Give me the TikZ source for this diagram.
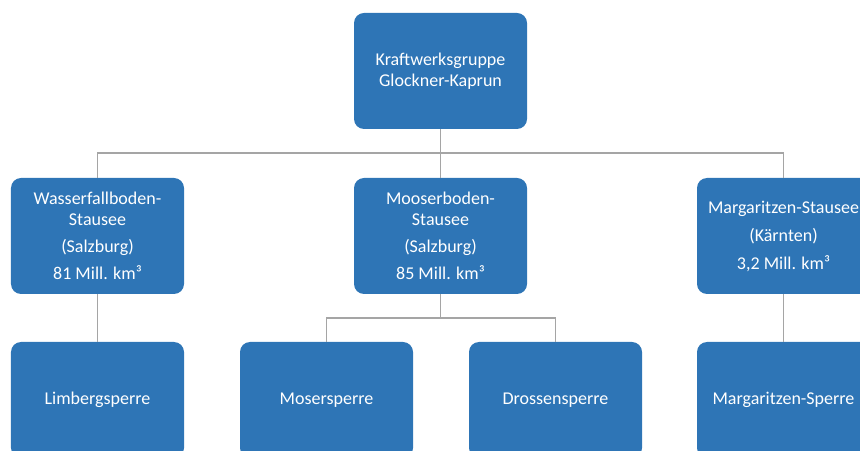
\documentclass[tikz,border=0pt]{standalone}
\usepackage{fontspec}
\setmainfont{Carlito}
\definecolor{boxblue}{HTML}{2E75B6}
\definecolor{linegray}{HTML}{A5A5A5}
\begin{document}
\begin{tikzpicture}[x=1bp,y=-1bp,
  orgbox/.style={draw=none,fill=boxblue,rounded corners=10bp,minimum width=173bp,minimum height=116bp,
    inner sep=0pt,text=white,align=center,font=\fontsize{18bp}{21bp}\selectfont},
  link/.style={draw=linegray,line width=1.6bp}]
\useasboundingbox (0,0) rectangle (860,451);
\clip (0,0) rectangle (860,451);
\node[orgbox] (top) at (440.5,71) {Kraftwerksgruppe\\Glockner-Kaprun};
\node[orgbox] (w) at (97.5,236) {Wasserfallboden-\\Stausee\\[6bp](Salzburg)\\[6bp]81 Mill. km³};
\node[orgbox] (m) at (440.5,236) {Mooserboden-\\Stausee\\[6bp](Salzburg)\\[6bp]85 Mill. km³};
\node[orgbox] (g) at (783.5,236) {Margaritzen-Stausee\\[7bp](Kärnten)\\[7bp]3,2 Mill. km³};
\node[orgbox] (lb) at (97.5,400) {Limbergsperre};
\node[orgbox] (ms) at (326.5,400) {Mosersperre};
\node[orgbox] (ds) at (555.5,400) {Drossensperre};
\node[orgbox] (gs) at (783.5,400) {Margaritzen-Sperre};
\coordinate (h1) at (440.5,153);
\coordinate (h2) at (440.5,318);
\draw[link] (top.south) -- (h1);
\draw[link] (w.north) |- (h1) -| (g.north);
\draw[link] (h1) -- (m.north);
\draw[link] (w.south) -- (lb.north);
\draw[link] (g.south) -- (gs.north);
\draw[link] (m.south) -- (h2);
\draw[link] (ms.north) |- (h2) -| (ds.north);
\end{tikzpicture}
\end{document}
